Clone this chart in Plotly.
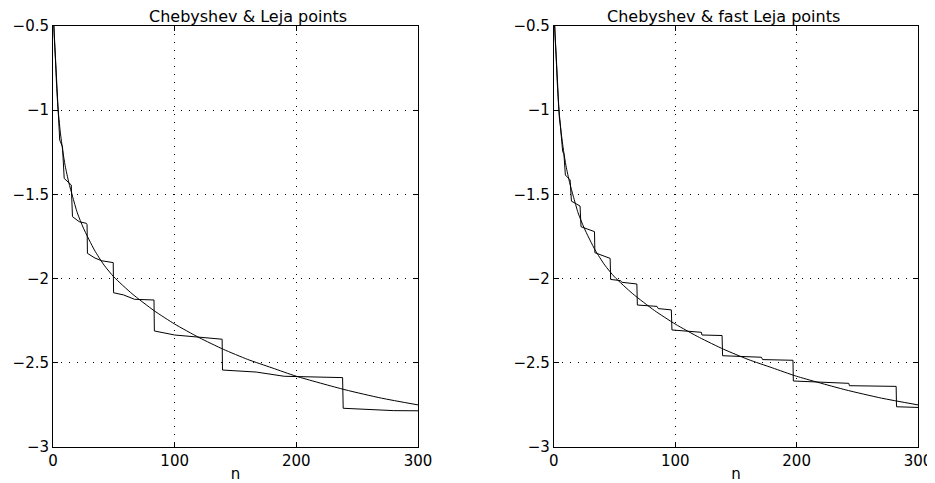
import plotly.graph_objects as go
from plotly.subplots import make_subplots

# Smooth reference curve (same in both panels)
n_smooth = [0, 0.7, 1, 2, 3, 4, 6, 8, 10, 13, 16, 20, 25, 34, 42, 50, 65, 83, 100,
            120, 140, 160, 180, 200, 240, 270, 300]
y_smooth = [-0.40, -0.50, -0.56, -0.70, -0.86, -0.98, -1.13, -1.24, -1.33, -1.43, -1.51,
            -1.61, -1.70, -1.83, -1.92, -1.99, -2.09, -2.19, -2.27, -2.35, -2.42, -2.48,
            -2.53, -2.58, -2.66, -2.71, -2.75]

# Leja points (left panel), step curve
n_leja = [0, 0.7, 1.5, 3, 4.5, 5.5, 7.8, 8.5, 9.2, 15, 15.5, 16, 21.5, 27.5, 28, 28.3,
          34.5, 40, 49.5, 49.8, 58, 67, 83, 83.3, 100, 129, 139, 139.3, 167, 190,
          238, 238.5, 280, 300]
y_leja = [-0.40, -0.50, -0.68, -0.90, -1.07, -1.177, -1.217, -1.30, -1.405, -1.444, -1.54,
          -1.632, -1.662, -1.672, -1.68, -1.85, -1.878, -1.894, -1.905, -2.084, -2.097,
          -2.123, -2.127, -2.311, -2.335, -2.355, -2.36, -2.543, -2.555, -2.58, -2.588,
          -2.77, -2.784, -2.785]

# Fast Leja points (right panel), step curve
n_fast = [0, 0.7, 1.5, 3, 4.5, 5.4, 5.8, 7.3, 8.3, 9.5, 13.4, 14.5, 21.6, 22.4, 33.5,
          33.8, 46.4, 46.8, 55, 56, 68.4, 68.8, 85, 86, 96.8, 97.3, 121.6, 122, 138.6,
          139, 171, 172, 197, 197.3, 243, 243.5, 282, 282.3, 300]
y_fast = [-0.40, -0.50, -0.68, -0.90, -1.04, -1.094, -1.13, -1.246, -1.26, -1.385, -1.414,
          -1.54, -1.569, -1.692, -1.721, -1.846, -1.88, -2.005, -2.012, -2.022, -2.032,
          -2.157, -2.165, -2.178, -2.186, -2.305, -2.319, -2.335, -2.338, -2.458, -2.467,
          -2.481, -2.485, -2.608, -2.622, -2.636, -2.64, -2.761, -2.765]

titles = ["Chebyshev & Leja points", "Chebyshev & fast Leja points"]
x_ticks = [0, 100, 200, 300]
y_ticks = [-3, -2.5, -2, -1.5, -1, -0.5]
x_label = "n"

FONT = "DejaVu Sans, Arial, sans-serif"

fig = make_subplots(rows=1, cols=2, subplot_titles=titles)

line_style = dict(color="black", width=1)
for col, (ns, ys) in enumerate([(n_leja, y_leja), (n_fast, y_fast)], start=1):
    fig.add_trace(go.Scatter(x=n_smooth, y=y_smooth, mode="lines",
                             line=dict(color="black", width=1, shape="spline", smoothing=0.6),
                             showlegend=False, hoverinfo="skip"), row=1, col=col)
    fig.add_trace(go.Scatter(x=ns, y=ys, mode="lines", line=line_style,
                             showlegend=False, hoverinfo="skip"), row=1, col=col)

axis_common = dict(
    showline=True, linecolor="black", linewidth=1, mirror="allticks",
    ticks="inside", ticklen=5, tickcolor="black", tickwidth=1,
    showgrid=True, gridcolor="black", gridwidth=1, griddash="1px,7px",
    tickfont=dict(family=FONT, size=15, color="black"),
    automargin=False,
)

for i, dom in [(1, [0.0, 0.422]), (2, [0.579, 1.0])]:
    xa = "xaxis" if i == 1 else "xaxis2"
    ya = "yaxis" if i == 1 else "yaxis2"
    fig.layout[xa].update(domain=dom, range=[0, 300], tickvals=x_ticks,
                          zeroline=True, zerolinecolor="black", zerolinewidth=2.5,
                          title=dict(text=x_label, font=dict(family=FONT, size=15, color="black"),
                                     standoff=0),
                          **axis_common)
    fig.layout[ya].update(range=[-3, -0.5], tickvals=y_ticks, zeroline=False,
                          ticklabelstandoff=0, **axis_common)

for ann in fig.layout.annotations:
    ann.font = dict(family=FONT, size=16, color="black")
    ann.yshift = -2

# the page body adds an 8px offset, so the figure is 8px smaller than the window
fig.update_layout(
    width=927, height=475,
    margin=dict(l=45, r=17, t=18, b=36, autoexpand=False),
    paper_bgcolor="white", plot_bgcolor="white",
    font=dict(family=FONT, color="black"),
)

fig.write_html("out.html")
